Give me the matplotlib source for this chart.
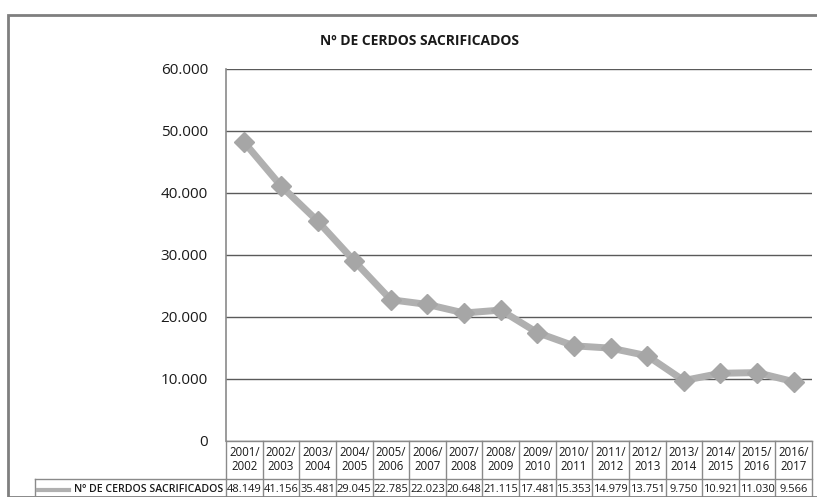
import matplotlib
matplotlib.use("Agg")
import matplotlib.pyplot as plt
from matplotlib.lines import Line2D
from matplotlib.patches import Rectangle

categories_top = ["2001/", "2002/", "2003/", "2004/", "2005/", "2006/", "2007/", "2008/",
                  "2009/", "2010/", "2011/", "2012/", "2013/", "2014/", "2015/", "2016/"]
categories_bottom = ["2002", "2003", "2004", "2005", "2006", "2007", "2008", "2009",
                     "2010", "2011", "2012", "2013", "2014", "2015", "2016", "2017"]
values = [48149, 41156, 35481, 29045, 22785, 22023, 20648, 21115, 17481, 15353,
          14979, 13751, 9750, 10921, 11030, 9566]
value_labels = ["48.149", "41.156", "35.481", "29.045", "22.785", "22.023", "20.648",
                "21.115", "17.481", "15.353", "14.979", "13.751", "9.750", "10.921",
                "11.030", "9.566"]
yticks = [0, 10000, 20000, 30000, 40000, 50000, 60000]
ytick_labels = ["0", "10.000", "20.000", "30.000", "40.000", "50.000", "60.000"]
series_name = "Nº DE CERDOS SACRIFICADOS"
title = "Nº DE CERDOS SACRIFICADOS"

FONT = ['Open Sans', 'DejaVu Sans']
plt.rcParams['font.family'] = FONT

W, H = 817, 497
fig = plt.figure(figsize=(W / 100, H / 100), dpi=100)

def fx(px):
    return px / W

def fy(py):
    return 1 - py / H

# outer chart frame
fig.patches.append(Rectangle((fx(8), fy(497)), fx(830) - fx(8), fy(15) - fy(497),
                             transform=fig.transFigure, fill=False,
                             edgecolor="#7f7f7f", linewidth=2.0))

left, right, top, bottom = 226, 812, 69, 441
ax = fig.add_axes([fx(left), fy(bottom), fx(right) - fx(left), fy(top) - fy(bottom)])
n = len(values)
x = list(range(n))
ax.plot(x, values, color="#b0b0b0", linewidth=5, marker="D", markersize=10,
        markerfacecolor="#a6a6a6", markeredgecolor="#a6a6a6", zorder=3)
ax.set_xlim(-0.5, n - 0.5)
ax.set_ylim(0, 60000)
ax.set_yticks(yticks)
ax.set_yticklabels(ytick_labels, fontsize=11, color="#1a1a1a")
ax.yaxis.grid(True, color="#5a5a5a", linewidth=1.0)
ax.set_axisbelow(True)
ax.set_xticks([])
ax.tick_params(axis="y", length=0, pad=13)
for s in ["top", "right", "bottom"]:
    ax.spines[s].set_visible(False)
ax.spines["left"].set_color("#8a8a8a")
ax.spines["left"].set_linewidth(1.2)

fig.text(fx(419), fy(41), title, ha="center", va="center", fontsize=10,
         fontweight="bold", color="#1a1a1a")

# data table below the plot (table axis units = pixels, 0 at image bottom)
tab = fig.add_axes([fx(left), 0, fx(right) - fx(left), fy(bottom)])
tab.set_xlim(-0.5, n - 0.5)
tab.set_ylim(0, 56)
tab.axis("off")
grid_c = "#8a8a8a"
tab.plot([-0.5, n - 0.5], [56, 56], color=grid_c, lw=1.0, clip_on=False)
tab.plot([-0.5, n - 0.5], [18, 18], color=grid_c, lw=1.0, clip_on=False)
for i in range(n + 1):
    tab.plot([i - 0.5, i - 0.5], [0, 56], color=grid_c, lw=1.0, clip_on=False)
for i in range(n):
    tab.text(i, 45, categories_top[i], ha="center", va="center", fontsize=8.3,
             color="#1a1a1a")
    tab.text(i, 30, categories_bottom[i], ha="center", va="center", fontsize=8.3,
             color="#1a1a1a")
    tab.text(i, 7, value_labels[i], ha="center", va="center", fontsize=8,
             color="#1a1a1a")

# legend cell in the data row
fig.add_artist(Line2D([fx(35), fx(left)], [fy(479), fy(479)], color=grid_c, lw=1.0))
fig.add_artist(Line2D([fx(35), fx(35)], [fy(479), fy(497)], color=grid_c, lw=1.0))
fig.add_artist(Line2D([fx(38), fx(69)], [fy(490), fy(490)], color="#b0b0b0", lw=3))
fig.text(fx(223), fy(490), series_name, ha="right", va="center", fontsize=7.6,
         fontweight="semibold", color="#1a1a1a")

fig.savefig("out.png", dpi=100)
